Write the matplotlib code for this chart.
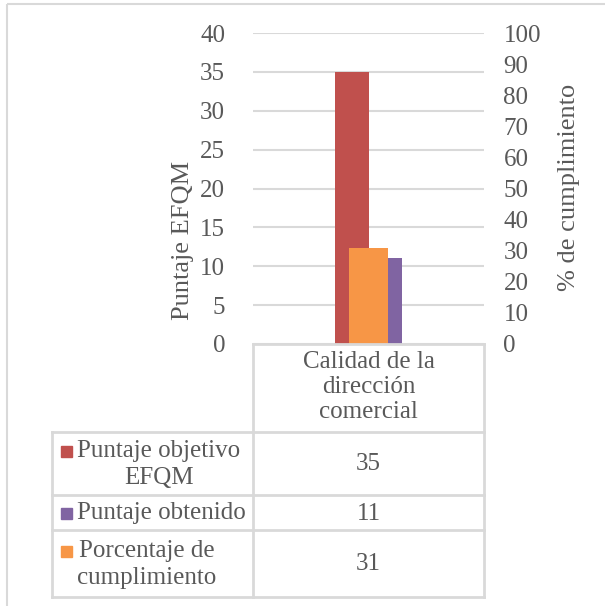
import matplotlib.pyplot as plt
from matplotlib.patches import Rectangle

plt.rcParams['font.family'] = ['Liberation Serif', 'DejaVu Serif']

# data
category = 'Calidad de la\ndirección\ncomercial'
series_names = ['Puntaje objetivo\nEFQM', 'Puntaje obtenido', 'Porcentaje de\ncumplimiento']
objetivo = [35]
obtenido = [11]
porcentaje = [31]
colors = ['#c0504d', '#8064a2', '#f79646']

text_col = '#595959'
line_col = '#d9d9d9'
W, H = 605, 606
fs = 18

fig = plt.figure(figsize=(W / 100, H / 100), dpi=100)

# main plot area
ax = fig.add_axes([253 / W, 1 - 344 / H, 231 / W, 311 / H])
x = [0]
bw = 0.143
ax.bar([v - bw / 2 for v in x], objetivo, width=bw, color=colors[0], zorder=2)
ax.bar([v + bw / 2 for v in x], obtenido, width=bw, color=colors[1], zorder=2)
ax.set_xlim(-0.5, 0.5)
ax.set_ylim(0, 40)
ax.set_yticks(range(0, 41, 5))
ax.set_xticks([])
ax.grid(axis='y', color=line_col, linewidth=1.5, zorder=0)
ax.set_axisbelow(True)
ax.tick_params(axis='y', length=0, labelsize=fs, labelcolor=text_col, pad=20)
for s in ax.spines.values():
    s.set_visible(False)
ax.set_ylabel('Puntaje EFQM', fontsize=19, color=text_col)
ax.yaxis.set_label_coords(-0.255, 0.334)

# secondary axis for the percentage
ax2 = ax.twinx()
ax2.bar(x, porcentaje, width=0.17, color=colors[2], zorder=3)
ax2.set_ylim(0, 100)
ax2.set_yticks(range(0, 101, 10))
ax2.tick_params(axis='y', length=0, labelsize=fs, labelcolor=text_col, pad=14)
for s in ax2.spines.values():
    s.set_visible(False)
ax2.set_ylabel('% de cumplimiento', fontsize=19, color=text_col)
ax2.yaxis.set_label_coords(1.32, 0.505)

# data table drawn in pixel coordinates
tb = fig.add_axes([0, 0, 1, 1])
tb.set_xlim(0, W)
tb.set_ylim(H, 0)
tb.axis('off')

# outer chart border
tb.add_patch(Rectangle((7, 4), W, H, fill=False, edgecolor=line_col, linewidth=1.5))

lw = 2
xl, xm, xr = 52, 253, 484
rows = [432, 495, 530, 597]
tb.plot([xm, xr], [344, 344], color=line_col, lw=lw)
tb.plot([xm, xm], [344, rows[-1]], color=line_col, lw=lw)
tb.plot([xr, xr], [344, rows[-1]], color=line_col, lw=lw)
tb.plot([xl, xl], [rows[0], rows[-1]], color=line_col, lw=lw)
for r in rows:
    tb.plot([xl, xr], [r, r], color=line_col, lw=lw)

tb.text((xm + xr) / 2, 387, category, ha='center', va='center', fontsize=fs,
        color=text_col, linespacing=1.2)

values = [objetivo[0], obtenido[0], porcentaje[0]]
for i, (name, val, c) in enumerate(zip(series_names, values, colors)):
    yc = (rows[i] + rows[i + 1]) / 2 + 1
    nlines = name.count('\n') + 1
    y_first = yc - (nlines - 1) * 12.5
    tb.add_patch(Rectangle((61, y_first - 6), 11, 11, color=c))
    tb.text(77, yc, name, ha='left', va='center', multialignment='center',
            fontsize=fs, color=text_col, linespacing=1.25)
    tb.text((xm + xr) / 2, yc, str(val), ha='center', va='center', fontsize=fs,
            color=text_col)

fig.savefig('out.png', dpi=100)
